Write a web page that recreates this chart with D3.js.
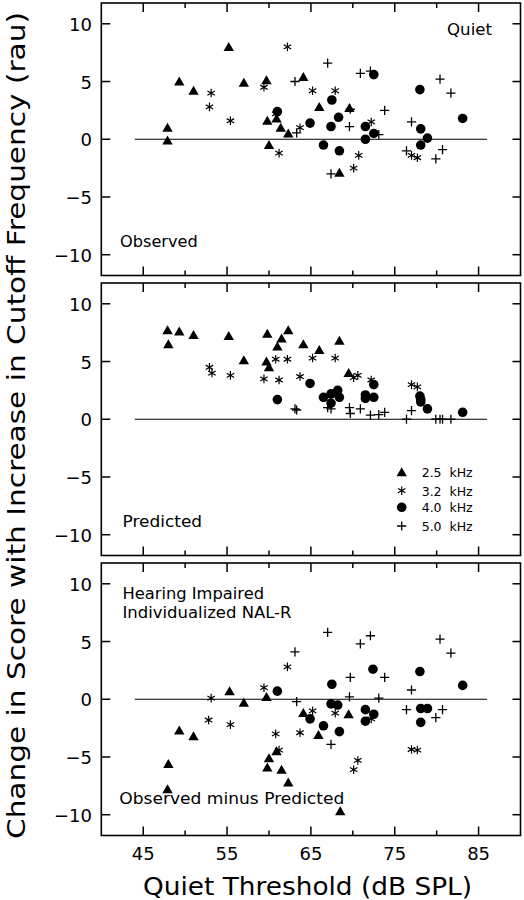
<!DOCTYPE html>
<html><head><meta charset="utf-8">
<script src="https://cdn.jsdelivr.net/npm/d3@7"></script>
<style>body{margin:0;background:#fff}svg{display:block}text{font-family:"DejaVu Sans",sans-serif;fill:#000}</style>
</head><body>
<svg id="c" width="524" height="900"></svg>
<script>
// ---- data ----
const freqs = ["2.5 kHz", "3.2 kHz", "4.0 kHz", "5.0 kHz"];
const xMajorTicks = [45, 55, 65, 75, 85];
const xMinorTicks = [50, 60, 70, 80];
const yTicks = [10, 5, 0, -5, -10];
const panelNames = ["Observed", "Predicted", "Observed minus Predicted"];

const obs25 = [[47.9,1.0],[47.9,-0.1],[49.3,5.0],[51.0,4.2],[55.2,8.0],[57.0,4.9],[59.7,5.1],[59.8,1.6],[60.9,1.8],[61.4,1.0],[62.3,0.5],[60.0,-0.5],[64.1,5.4],[66.0,2.8],[69.6,2.7],[68.4,-2.9]];
const obs32 = [[53.1,4.0],[52.9,2.8],[55.4,1.6],[59.4,4.5],[60.8,2.2],[62.2,8.0],[61.2,-1.2],[63.7,1.0],[65.2,4.2],[67.9,4.2],[70.7,-1.4],[70.1,-2.5],[72.2,1.5],[77.0,-1.4],[77.7,-1.6]];
const obs40 = [[61.0,2.4],[72.5,5.6],[67.5,3.4],[68.3,1.9],[64.9,1.4],[67.4,1.1],[71.5,1.1],[72.5,0.5],[78.0,4.3],[83.1,1.8],[78.1,0.9],[78.9,0.1],[71.5,0.0],[66.5,-0.5],[68.4,-1.0],[78.1,-0.5]];
const obs50 = [[63.3,0.55],[63.1,5.0],[67.0,6.6],[70.9,5.7],[72.1,5.9],[73.8,2.5],[69.7,2.6],[69.6,1.1],[73.1,0.4],[77.0,1.5],[80.4,5.2],[81.7,4.0],[67.4,-3.0],[76.4,-1.0],[79.9,-1.7],[80.7,-0.9]];

const pred25 = [[47.9,7.7],[48.0,6.5],[49.3,7.6],[51.0,7.3],[55.2,7.2],[57.0,5.1],[59.8,7.4],[59.7,5.0],[60.0,4.5],[61.5,7.0],[61.0,6.3],[62.3,7.7],[64.1,6.5],[66.0,6.0],[68.4,6.8],[69.5,4.0]];
const pred32 = [[52.9,4.5],[53.2,4.0],[55.4,3.8],[59.4,3.5],[60.8,5.2],[62.2,5.2],[61.2,3.4],[63.7,3.7],[65.2,5.3],[67.9,5.3],[70.1,3.6],[70.6,3.8],[72.2,3.4],[77.0,3.0],[77.7,2.8]];
const pred40 = [[61.0,1.7],[64.9,3.1],[72.5,3.0],[66.5,1.9],[67.4,2.2],[68.2,2.5],[68.4,1.9],[67.4,1.4],[71.5,2.1],[71.5,1.8],[72.5,1.9],[78.0,2.0],[78.1,1.7],[78.1,1.5],[78.9,0.9],[83.1,0.6]];
const pred50 = [[63.3,0.8],[63.1,0.9],[67.0,1.0],[67.4,0.9],[69.6,1.0],[69.7,0.5],[70.9,0.9],[72.1,0.35],[73.1,0.4],[73.8,0.6],[76.4,0.0],[77.0,0.75],[79.9,0.0],[80.4,0.0],[80.7,0.0],[81.7,0.0]];

const diff25 = [[48.0,-5.6],[47.9,-7.8],[49.3,-2.7],[51.0,-3.2],[55.3,0.7],[57.0,-0.3],[59.7,0.2],[60.9,-4.5],[60.0,-5.1],[59.8,-5.9],[61.5,-6.1],[62.3,-7.2],[64.1,-1.2],[65.9,-3.1],[69.5,-1.3],[68.5,-9.7]];
const diff32 = [[53.1,0.1],[52.8,-1.8],[55.4,-2.2],[59.4,1.0],[60.8,-3.0],[61.2,-4.4],[62.2,2.8],[63.7,-2.9],[65.2,-1.0],[67.9,-1.2],[70.1,-6.1],[70.6,-5.3],[72.2,-1.7],[77.0,-4.35],[77.7,-4.4]];
const diff40 = [[61.0,0.7],[72.4,2.6],[78.0,2.4],[67.5,1.3],[83.1,1.2],[67.4,-0.4],[68.2,-0.5],[71.5,-0.9],[78.1,-0.8],[78.9,-0.8],[64.9,-1.7],[66.5,-2.3],[68.4,-2.8],[72.5,-1.3],[71.5,-1.9],[78.1,-2.0]];
const diff50 = [[63.1,4.1],[63.3,-0.2],[67.0,5.8],[70.9,4.8],[72.1,5.5],[80.4,5.2],[81.7,4.0],[69.7,1.9],[73.8,1.9],[77.0,0.8],[69.6,0.2],[73.1,0.1],[76.4,-0.9],[80.7,-0.9],[79.9,-1.6],[67.4,-3.9]];

const panels = [
  [obs25, obs32, obs40, obs50],
  [pred25, pred32, pred40, pred50],
  [diff25, diff32, diff40, diff50]
];

// ---- layout ----
const svg = d3.select("#c");
const L = 101.3, R = 520.5, PH = 272.5, GAP = 280, TOP0 = 3;
const x = d3.scaleLinear().domain([40, 90]).range([L, R]);

function drawMarker(g, type, cx, cy) {
  if (type === 0) {
    g.append("path").attr("d", `M${cx},${cy-5}L${cx+5.2},${cy+4}L${cx-5.2},${cy+4}Z`).attr("fill", "#000");
  } else if (type === 1) {
    const r = 4.3;
    const p = d3.path();
    for (const a of [90, 30, 150]) {
      const rad = a * Math.PI / 180;
      p.moveTo(cx - r * Math.cos(rad), cy - r * Math.sin(rad));
      p.lineTo(cx + r * Math.cos(rad), cy + r * Math.sin(rad));
    }
    g.append("path").attr("d", p.toString()).attr("stroke", "#000").attr("stroke-width", 1.2).attr("fill", "none");
  } else if (type === 2) {
    g.append("circle").attr("cx", cx).attr("cy", cy).attr("r", 4.8).attr("fill", "#000");
  } else {
    const r = 4.6;
    g.append("path").attr("d", `M${cx-r},${cy}H${cx+r}M${cx},${cy-r}V${cy+r}`).attr("stroke", "#000").attr("stroke-width", 1.3).attr("fill", "none");
  }
}

panels.forEach((series, i) => {
  const top = TOP0 + GAP * i;
  const y = d3.scaleLinear().domain([-11.8, 11.8]).range([top + PH, top]);
  const g = svg.append("g");

  // zero line
  g.append("line").attr("x1", x(44)).attr("x2", x(86)).attr("y1", y(0)).attr("y2", y(0))
    .attr("stroke", "#000").attr("stroke-width", 1.2);

  // ticks
  const tk = g.append("g").attr("stroke", "#000").attr("stroke-width", 1.5);
  xMajorTicks.forEach(v => {
    tk.append("line").attr("x1", x(v)).attr("x2", x(v)).attr("y1", top).attr("y2", top + 9);
    tk.append("line").attr("x1", x(v)).attr("x2", x(v)).attr("y1", top + PH).attr("y2", top + PH - 9);
  });
  xMinorTicks.forEach(v => {
    tk.append("line").attr("x1", x(v)).attr("x2", x(v)).attr("y1", top).attr("y2", top + 5);
    tk.append("line").attr("x1", x(v)).attr("x2", x(v)).attr("y1", top + PH).attr("y2", top + PH - 5);
  });
  yTicks.forEach(v => {
    tk.append("line").attr("x1", L).attr("x2", L + 9).attr("y1", y(v)).attr("y2", y(v));
    tk.append("line").attr("x1", R).attr("x2", R - 8).attr("y1", y(v)).attr("y2", y(v));
    g.append("text").attr("x", 92).attr("y", y(v) + 7).attr("text-anchor", "end")
      .attr("font-size", 18).text(v < 0 ? "\u2212" + Math.abs(v) : v);
  });

  // frame
  g.append("rect").attr("x", L).attr("y", top).attr("width", R - L).attr("height", PH)
    .attr("fill", "none").attr("stroke", "#000").attr("stroke-width", 1.6);

  // points
  series.forEach((pts, s) => {
    pts.forEach(d => drawMarker(g, s, x(d[0]), y(d[1])));
  });
});

// panel labels
function lab(txt, x0, base, size, len) {
  svg.append("text").attr("x", x0).attr("y", base).attr("font-size", size)
    .attr("textLength", len).attr("lengthAdjust", "spacingAndGlyphs").text(txt);
}
lab("Quiet", 447, 35, 15, 45);
lab(panelNames[0], 120, 246.7, 15.5, 77.7);
lab(panelNames[1], 122.5, 526.7, 15.5, 79.6);
lab("Hearing Impaired", 122.5, 598.5, 15, 141.5);
lab("Individualized NAL-R", 122.5, 617.5, 15, 169);
lab(panelNames[2], 119.3, 804.3, 15.5, 225);

// legend
const legY = [472.3, 490.7, 507.3, 526];
freqs.forEach((f, k) => {
  drawMarker(svg, k, 401.7, legY[k]);
  svg.append("text").attr("x", 421.7).attr("y", legY[k] + 5).attr("font-size", 13)
    .attr("textLength", 51).attr("lengthAdjust", "spacingAndGlyphs").attr("xml:space", "preserve")
    .text(f.replace(" ", "  "));
});

// x tick labels
xMajorTicks.forEach(v => {
  svg.append("text").attr("x", x(v)).attr("y", 859.5).attr("text-anchor", "middle")
    .attr("font-size", 18).text(v);
});

// axis titles
svg.append("text").attr("x", 143).attr("y", 895).attr("font-size", 24)
  .attr("textLength", 329).attr("lengthAdjust", "spacingAndGlyphs").text("Quiet Threshold (dB SPL)");
svg.append("text").attr("transform", "translate(25,839) rotate(-90)").attr("x", 0).attr("y", 0)
  .attr("font-size", 24).attr("textLength", 827).attr("lengthAdjust", "spacingAndGlyphs")
  .text("Change in Score with Increase in Cutoff Frequency (rau)");
</script>
</body></html>
